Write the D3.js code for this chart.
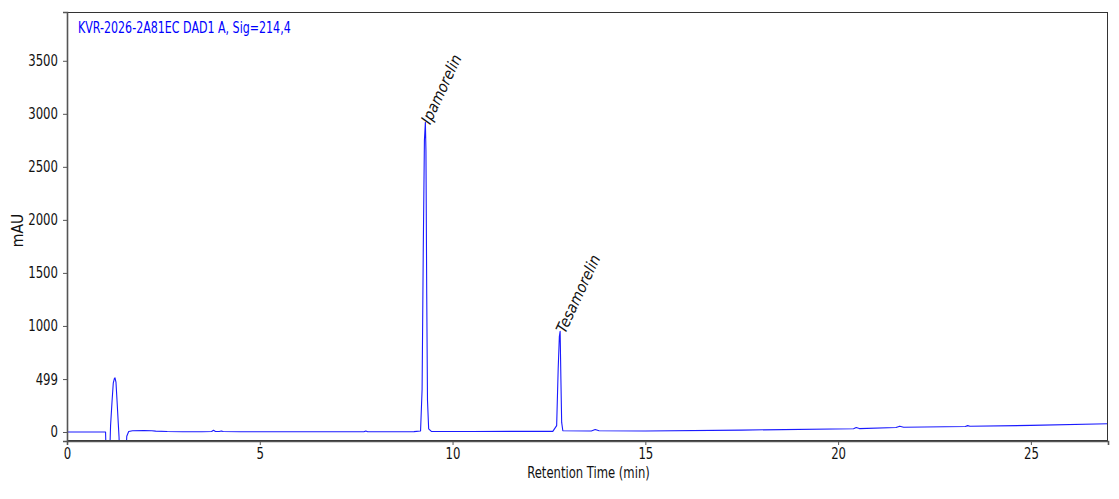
<!DOCTYPE html>
<html>
<head>
<meta charset="utf-8">
<script src="https://cdn.jsdelivr.net/npm/d3@7"></script>
<style>
  html, body { margin: 0; padding: 0; background: #fff; }
  svg { display: block; font-family: "DejaVu Sans Condensed", "DejaVu Sans", sans-serif; font-stretch: condensed; }
</style>
</head>
<body>
<svg id="chart" width="1119" height="499"></svg>
<script>
// ---- data ----
const title = "KVR-2026-2A81EC DAD1 A, Sig=214,4";
const xLabel = "Retention Time (min)";
const yLabel = "mAU";
const xTicks = [0, 5, 10, 15, 20, 25];
const yTicks = [0, 499, 1000, 1500, 2000, 2500, 3000, 3500];
const yTickLabels = ["0", "499", "1000", "1500", "2000", "2500", "3000", "3500"];

const times = [
  0, 1.00, 1.02, 1.10, 1.13, 1.17, 1.20, 1.23, 1.245, 1.27, 1.30, 1.33, 1.35, 1.37,
  1.52, 1.55, 1.60, 1.70, 2.00, 2.20, 2.30, 2.60, 3.00, 3.50, 3.75, 3.80, 3.85, 3.95,
  4.00, 4.05, 4.50, 6.00, 7.70, 7.75, 7.80, 9.00, 9.17, 9.21, 9.24, 9.27, 9.295, 9.31,
  9.33, 9.35, 9.38, 9.45, 10.5, 12.60, 12.70, 12.74, 12.77, 12.79, 12.81, 12.83, 12.86,
  13.60, 13.70, 13.80, 15.0, 17.5, 20.40, 20.47, 20.55, 21.50, 21.60, 21.70, 23.30,
  23.36, 23.42, 25.0, 27.0
];
// detector signal (mAU) at those times
const signal = [
  0, 0, -300, -300, 60, 300, 460, 505, 510, 470, 280, 80, -50, -300,
  -300, -40, 5, 12, 14, 12, 8, 4, 2, 2, 4, 16, 5, 5,
  10, 4, 2, 2, 2, 9, 2, 3, 10, 400, 1700, 2750, 2920, 2650,
  1300, 300, 30, 6, 5, 6, 60, 600, 900, 950, 500, 90, 12,
  10, 24, 12, 10, 18, 30, 42, 32, 42, 55, 44, 52,
  60, 54, 62, 78
];
const peaks = [
  { name: "Ipamorelin", t: 9.295, h: 2920 },
  { name: "Tesamorelin", t: 12.79, h: 950 }
];

// ---- layout ----
const svg = d3.select("#chart");
const L = 67, T = 12, W = 1041, H = 429;
const x = d3.scaleLinear().domain([0, 27]).range([L, L + W]);
const y = d3.scaleLinear().domain([-85, 3960]).range([T + H, T]);
const SQ = 0.84; // horizontal squeeze of the reference glyphs

function squeeze(sel, k) {
  sel.each(function () {
    const len = this.getComputedTextLength();
    d3.select(this).attr("textLength", len * k).attr("lengthAdjust", "spacingAndGlyphs");
  });
}

svg.append("defs").append("clipPath").attr("id", "clip")
  .append("rect").attr("x", L).attr("y", T).attr("width", W).attr("height", H);

const pts = times.map((t, i) => [t, signal[i]]);
const line = d3.line().x(d => x(d[0])).y(d => y(d[1]));
svg.append("path").datum(pts)
  .attr("clip-path", "url(#clip)")
  .attr("fill", "none").attr("stroke", "#1a1aff").attr("stroke-width", 1.1)
  .attr("stroke-linejoin", "round")
  .attr("d", line);

// frame
svg.append("rect").attr("x", L + 0.5).attr("y", T + 0.5).attr("width", W - 1).attr("height", H - 1)
  .attr("fill", "none").attr("stroke", "#333").attr("stroke-width", 1);

// axes
const fontSize = 15.5;
const xAxis = svg.append("g").attr("transform", `translate(0,${T + H})`)
  .call(d3.axisBottom(x).tickValues(xTicks).tickSize(4).tickPadding(3).tickFormat(d3.format("d")));
const yAxis = svg.append("g").attr("transform", `translate(${L},0)`)
  .call(d3.axisLeft(y).tickValues(yTicks).tickSize(4).tickPadding(5).tickFormat((d, i) => yTickLabels[i]));
[xAxis, yAxis].forEach(g => {
  g.select(".domain").attr("stroke", "#555").attr("stroke-width", 1.6);
  g.selectAll(".tick line").attr("stroke", "#555");
  g.selectAll(".tick text").attr("fill", "#111").attr("font-size", fontSize)
    .attr("font-family", "'DejaVu Sans Condensed', 'DejaVu Sans', sans-serif");
});
squeeze(xAxis.selectAll(".tick text"), SQ);
squeeze(yAxis.selectAll(".tick text"), SQ);

// labels
const xl = svg.append("text").attr("x", L + W / 2 + 1).attr("y", 477.5).attr("text-anchor", "middle")
  .attr("font-size", 15).attr("fill", "#111").text(xLabel);
squeeze(xl, 0.86);
svg.append("text").attr("transform", `translate(23,${T + H / 2 + 4}) rotate(-90)`)
  .attr("text-anchor", "middle").attr("font-size", fontSize).attr("fill", "#111").text(yLabel);

const tt = svg.append("text").attr("x", 78).attr("y", 33).attr("font-size", 15)
  .attr("fill", "#0000ff").text(title);
squeeze(tt, 0.82);

// peak annotations
peaks.forEach(p => {
  const px = x(p.t) + 5, py = y(p.h) + 3;
  svg.append("text").attr("transform", `translate(${px},${py}) rotate(-65)`)
    .attr("font-size", 15.5).attr("font-style", "italic").attr("fill", "#111").text(p.name);
});
</script>
</body>
</html>
